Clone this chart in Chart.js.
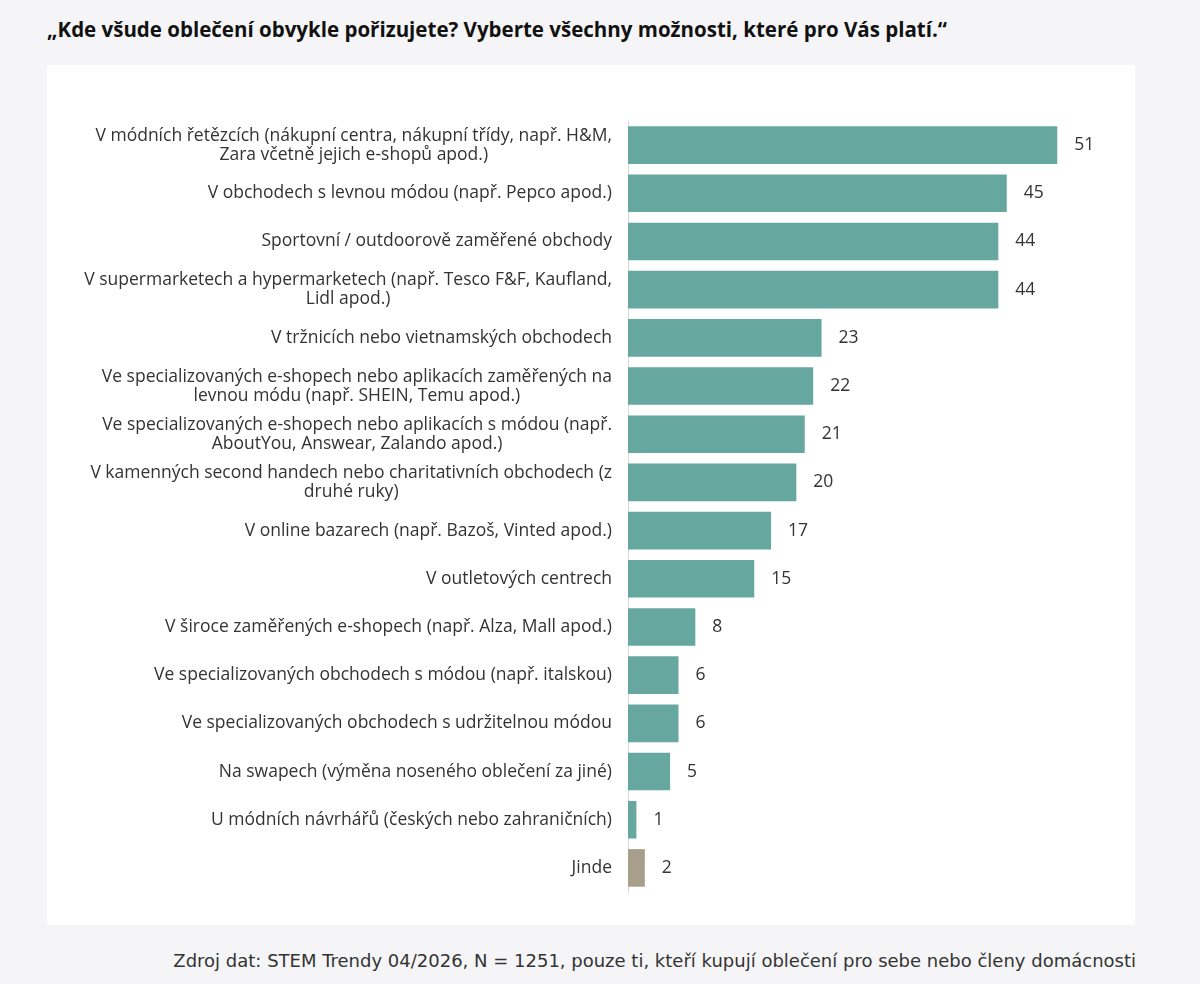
<!DOCTYPE html>
<html>
<head>
<meta charset="utf-8">
<script src="https://cdn.jsdelivr.net/npm/chart.js@4"></script>
<style>
  body { margin:0; background:#f5f5f7; font-family:"Open Sans", "Noto Sans", sans-serif; width:1200px; height:984px; position:relative; overflow:hidden; }
  h1 { position:absolute; left:47px; top:15px; margin:0; font-size:20.5px; font-weight:700; color:#111; font-family:"Open Sans", sans-serif; white-space:nowrap; }
  #panel { position:absolute; left:47px; top:65px; width:1088px; height:860px; background:#fff; }
  #src { position:absolute; right:64px; top:950px; font-size:18px; color:#333; font-family:"DejaVu Sans", sans-serif; white-space:nowrap; }
</style>
</head>
<body>
<h1>„Kde všude oblečení obvykle pořizujete? Vyberte všechny možnosti, které pro Vás platí.“</h1>
<div id="panel"><canvas id="c"></canvas></div>
<div id="src">Zdroj dat: STEM Trendy 04/2026, N = 1251, pouze ti, kteří kupují oblečení pro sebe nebo členy domácnosti</div>
<script>
const labels = [
  ["V módních řetězcích (nákupní centra, nákupní třídy, např. H&M,", "Zara včetně jejich e-shopů apod.)"],
  "V obchodech s levnou módou (např. Pepco apod.)",
  "Sportovní / outdoorově zaměřené obchody",
  ["V supermarketech a hypermarketech (např. Tesco F&F, Kaufland,", "Lidl apod.)"],
  "V tržnicích nebo vietnamských obchodech",
  ["Ve specializovaných e-shopech nebo aplikacích zaměřených na", "levnou módu (např. SHEIN, Temu apod.)"],
  ["Ve specializovaných e-shopech nebo aplikacích s módou (např.", "AboutYou, Answear, Zalando apod.)"],
  ["V kamenných second handech nebo charitativních obchodech (z", "druhé ruky)"],
  "V online bazarech (např. Bazoš, Vinted apod.)",
  "V outletových centrech",
  "V široce zaměřených e-shopech (např. Alza, Mall apod.)",
  "Ve specializovaných obchodech s módou (např. italskou)",
  "Ve specializovaných obchodech s udržitelnou módou",
  "Na swapech (výměna noseného oblečení za jiné)",
  "U módních návrhářů (českých nebo zahraničních)",
  "Jinde"
];
const values = [51, 45, 44, 44, 23, 22, 21, 20, 17, 15, 8, 6, 6, 5, 1, 2];
const colors = values.map((v, i) => i === values.length - 1 ? "#a89e8c" : "#66a8a0");

// category labels: block right-aligned to the axis, lines centred within the block
const textLabels = {
  id: "textLabels",
  afterDatasetsDraw(chart) {
    const ctx = chart.ctx;
    const yScale = chart.scales.y;
    const right = yScale.right - 16;
    ctx.save();
    ctx.font = "17.5px 'Open Sans', sans-serif";
    ctx.fillStyle = "#333";
    ctx.textBaseline = "middle";
    ctx.textAlign = "center";
    labels.forEach((lab, i) => {
      const lines = Array.isArray(lab) ? lab : [lab];
      const w = Math.max(...lines.map(l => ctx.measureText(l).width));
      const y0 = yScale.getPixelForValue(i) - (lines.length - 1) * 19 / 2;
      lines.forEach((l, j) => ctx.fillText(l, right - w / 2, y0 + j * 19));
    });
    ctx.textAlign = "left";
    chart.getDatasetMeta(0).data.forEach((bar, i) => {
      ctx.fillText(values[i], bar.x + 17, bar.y);
    });
    ctx.restore();
  }
};

new Chart(document.getElementById("c"), {
  type: "bar",
  data: { labels: labels, datasets: [{ data: values, backgroundColor: colors, barPercentage: 0.78, categoryPercentage: 1 }] },
  options: {
    indexAxis: "y",
    responsive: true,
    maintainAspectRatio: false,
    animation: false,
    layout: { padding: { top: 56, bottom: 33, right: 2, left: 0 } },
    plugins: { legend: { display: false }, tooltip: { enabled: false } },
    scales: {
      x: { display: false, min: 0, max: 60 },
      y: {
        afterFit(axis) { axis.width = 581; },
        grid: { display: false, drawTicks: false },
        border: { color: "#d9d9d9", width: 1 },
        ticks: { display: false }
      }
    }
  },
  plugins: [textLabels]
});
</script>
</body>
</html>
